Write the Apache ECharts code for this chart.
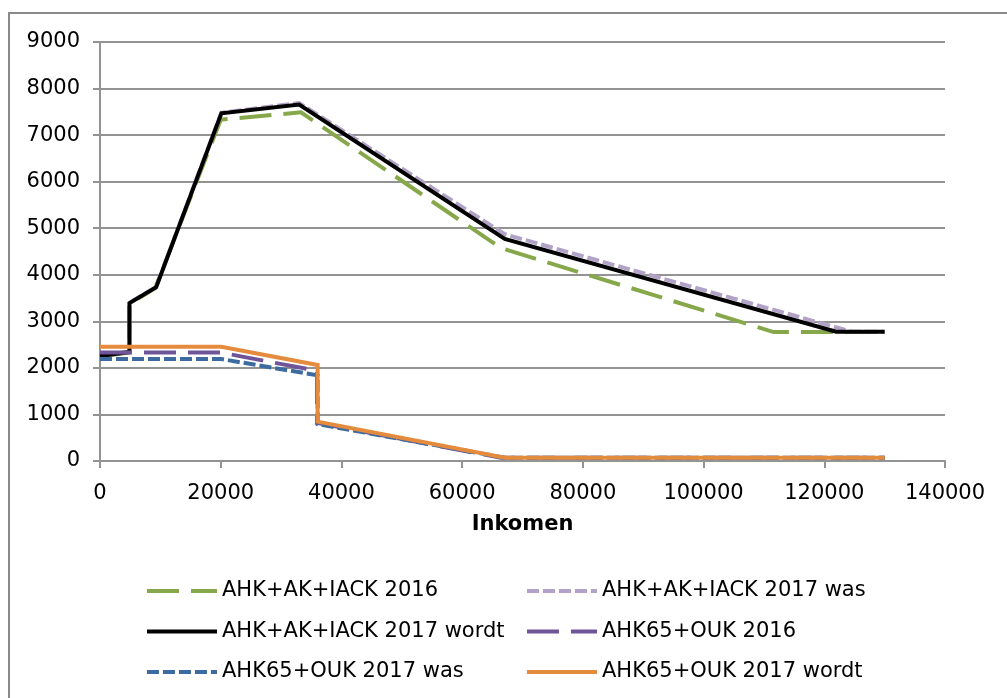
<!DOCTYPE html>
<html>
<head>
<meta charset="utf-8">
<title>Heffingskortingen</title>
<script src="https://cdn.jsdelivr.net/npm/echarts@6/dist/echarts.min.js"></script>
<style>
  html, body { margin: 0; padding: 0; background: #fff; }
  #chart { width: 1007px; height: 698px; }
</style>
</head>
<body>
<div id="chart"></div>
<script>
// x = inkomen, y = korting
const ahkIack2016 = [[0, 2242], [4860, 2329], [4860, 3368], [9147, 3715], [20000, 7330], [33300, 7490], [66400, 4575], [111600, 2770], [130000, 2770]];
const ahkIack2017was = [[0, 2254], [4881, 2345], [4881, 3398], [9309, 3740], [20108, 7480], [33000, 7690], [67068, 4870], [124500, 2778], [130000, 2778]];
const ahkIack2017wordt = [[0, 2254], [4881, 2340], [4881, 3393], [9309, 3735], [20108, 7468], [33000, 7655], [67068, 4770], [121972, 2778], [130000, 2778]];
const ahk65Ouk2016 = [[0, 2332], [19922, 2332], [35949, 1937], [35949, 820], [66417, 70], [130000, 70]];
const ahk65Ouk2017was = [[0, 2190], [20108, 2190], [36057, 1840], [36057, 792], [67068, 71], [130000, 71]];
const ahk65Ouk2017wordt = [[0, 2455], [20108, 2455], [36057, 2062], [36057, 844], [67068, 71], [130000, 71]];

const names = ['AHK+AK+IACK 2016', 'AHK+AK+IACK 2017 was', 'AHK+AK+IACK 2017 wordt',
  'AHK65+OUK 2016', 'AHK65+OUK 2017 was', 'AHK65+OUK 2017 wordt'];

const font = 'DejaVu Sans, Verdana, sans-serif';
const gridColor = '#939393';

function line(name, data, color, dash) {
  return {
    name: name,
    type: 'line',
    data: data,
    symbol: 'none',
    animation: false,
    lineStyle: { color: color, width: 4, type: dash || 'solid', cap: 'butt', join: 'miter' },
    itemStyle: { color: color }
  };
}

const legendBase = {
  orient: 'vertical',
  padding: 0,
  itemWidth: 70,
  itemHeight: 2,
  itemGap: 16.5,
  itemStyle: { opacity: 0 },
  lineStyle: { width: 4 },
  textStyle: { fontFamily: font, fontSize: 21, color: '#000', lineHeight: 24 },
  selectedMode: false
};

const chart = echarts.init(document.getElementById('chart'));
chart.setOption({
  backgroundColor: '#fff',
  graphic: [{
    type: 'rect',
    shape: { x: 9, y: 13, width: 1010, height: 710 },
    style: { fill: 'none', stroke: '#8a8a8a', lineWidth: 2 },
    silent: true
  }],
  grid: { left: 100, right: 62, top: 42, bottom: 237 },
  legend: [
    Object.assign({}, legendBase, { left: 145, top: 579, data: [names[0], names[2], names[4]] }),
    Object.assign({}, legendBase, { left: 525, top: 579, data: [names[1], names[3], names[5]] })
  ],
  xAxis: {
    type: 'value',
    min: 0,
    max: 140000,
    interval: 20000,
    name: 'Inkomen',
    nameLocation: 'middle',
    nameGap: 53,
    nameTextStyle: { fontFamily: font, fontSize: 21, fontWeight: 'bold', color: '#000' },
    axisLine: { show: true, lineStyle: { color: gridColor, width: 2 } },
    axisTick: { show: true, length: 7, lineStyle: { color: gridColor, width: 2 } },
    axisLabel: { fontFamily: font, fontSize: 21, color: '#000', margin: 22, formatter: v => String(v) },
    splitLine: { show: false }
  },
  yAxis: {
    type: 'value',
    min: 0,
    max: 9000,
    interval: 1000,
    axisLine: { show: true, lineStyle: { color: gridColor, width: 2 } },
    axisTick: { show: true, length: 7, lineStyle: { color: gridColor, width: 2 } },
    axisLabel: { fontFamily: font, fontSize: 21, color: '#000', margin: 20, formatter: v => String(v) },
    splitLine: { show: true, lineStyle: { color: gridColor, width: 2 } }
  },
  series: [
    line(names[0], ahkIack2016, '#87a84a', [32, 12]),
    line(names[1], ahkIack2017was, '#b3a2c7', [12, 4]),
    line(names[2], ahkIack2017wordt, '#000000'),
    line(names[3], ahk65Ouk2016, '#6f5597', [32, 12]),
    line(names[4], ahk65Ouk2017was, '#3d6a9f', [12, 4]),
    line(names[5], ahk65Ouk2017wordt, '#e58b3e')
  ]
});
</script>
</body>
</html>
